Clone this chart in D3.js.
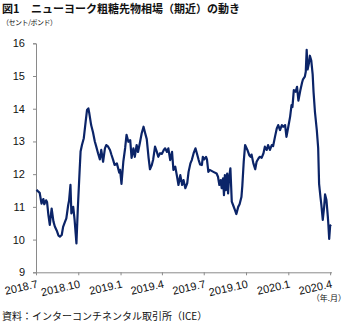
<!DOCTYPE html>
<html>
<head>
<meta charset="utf-8">
<script src="https://cdn.jsdelivr.net/npm/d3@7"></script>
<style>
  html, body { margin: 0; padding: 0; background: #fff; }
  svg { display: block; }
  text { font-family: "Liberation Sans", Arial, sans-serif; fill: #111; }
  .jp { font-family: "Noto Sans CJK JP", sans-serif; }
</style>
</head>
<body>
<svg id="chart" width="348" height="325"></svg>
<script>
// ICE raw sugar No.11, nearby contract (cents/lb)
const dates = [
  "2018-07-02","2018-07-05","2018-07-09","2018-07-13","2018-07-17","2018-07-19","2018-07-23","2018-07-25","2018-07-28","2018-07-31",
  "2018-08-04","2018-08-08","2018-08-11","2018-08-15","2018-08-19","2018-08-22","2018-08-26","2018-08-29","2018-09-02","2018-09-05",
  "2018-09-09","2018-09-11","2018-09-14","2018-09-16","2018-09-20","2018-09-23","2018-09-27","2018-09-30","2018-10-04","2018-10-06",
  "2018-10-09","2018-10-13","2018-10-17","2018-10-20","2018-10-23","2018-10-25","2018-10-29","2018-11-02","2018-11-06","2018-11-09",
  "2018-11-13","2018-11-17","2018-11-20","2018-11-24","2018-11-28","2018-12-01","2018-12-05","2018-12-09","2018-12-12","2018-12-16",
  "2018-12-19","2018-12-24","2018-12-29","2018-12-31","2019-01-03","2019-01-07","2019-01-11","2019-01-14","2019-01-18","2019-01-22",
  "2019-01-25","2019-01-29","2019-02-01","2019-02-05","2019-02-08","2019-02-12","2019-02-16","2019-02-20","2019-02-23","2019-02-27",
  "2019-03-03","2019-03-06","2019-03-10","2019-03-13","2019-03-17","2019-03-21","2019-03-24","2019-03-28","2019-04-01","2019-04-05",
  "2019-04-08","2019-04-12","2019-04-15","2019-04-19","2019-04-23","2019-04-26","2019-04-30","2019-05-04","2019-05-07","2019-05-11",
  "2019-05-15","2019-05-18","2019-05-22","2019-05-26","2019-05-29","2019-06-02","2019-06-05","2019-06-09","2019-06-13","2019-06-16",
  "2019-06-20","2019-06-23","2019-06-27","2019-06-29","2019-07-02","2019-07-06","2019-07-08","2019-07-11","2019-07-14","2019-07-22",
  "2019-07-29","2019-08-01","2019-08-04","2019-08-07","2019-08-09","2019-08-12","2019-08-14","2019-08-16","2019-08-18","2019-08-21",
  "2019-08-23","2019-08-25","2019-08-28","2019-08-31","2019-09-03","2019-09-07","2019-09-10","2019-09-14","2019-09-17","2019-09-21",
  "2019-09-23","2019-09-26","2019-09-29","2019-10-04","2019-10-08","2019-10-11","2019-10-13","2019-10-17","2019-10-21","2019-10-24",
  "2019-10-28","2019-10-31","2019-11-04","2019-11-08","2019-11-11","2019-11-15","2019-11-18","2019-11-22","2019-11-26","2019-11-29",
  "2019-12-03","2019-12-07","2019-12-10","2019-12-14","2019-12-18","2019-12-21","2019-12-25","2019-12-28","2020-01-01","2020-01-05",
  "2020-01-08","2020-01-10","2020-01-13","2020-01-17","2020-01-20","2020-01-23","2020-01-27","2020-01-31","2020-02-02","2020-02-06",
  "2020-02-08","2020-02-10","2020-02-12","2020-02-15","2020-02-17","2020-02-20","2020-02-23","2020-02-25","2020-02-28","2020-03-03",
  "2020-03-06","2020-03-08","2020-03-11","2020-03-13","2020-03-16","2020-03-19","2020-03-21","2020-03-24","2020-03-27","2020-03-28",
  "2020-03-30","2020-04-01","2020-04-03"
];
const prices = [
  11.52,11.48,11.43,11.10,11.24,11.08,11.20,11.15,10.75,10.45,
  10.95,10.55,10.40,10.28,10.12,10.09,10.14,10.39,10.54,10.65,
  11.05,11.20,11.67,10.80,11.00,10.60,9.88,10.95,12.13,12.69,
  12.89,13.10,13.60,13.96,14.01,13.86,13.50,13.28,13.00,12.85,
  12.64,12.45,12.74,12.38,12.79,12.89,12.84,12.74,12.60,12.43,
  12.28,12.33,12.05,12.13,11.70,12.38,12.80,13.20,12.99,13.04,
  12.50,12.79,12.53,12.89,12.68,12.95,13.25,13.45,13.28,13.07,
  12.50,12.15,12.28,12.45,12.84,12.68,12.53,12.64,12.62,12.74,
  12.79,12.68,12.79,12.43,12.68,12.13,12.23,11.92,11.67,11.97,
  11.67,11.82,11.57,11.72,12.07,12.33,12.43,12.64,12.79,12.64,
  12.43,12.30,12.28,12.53,12.45,12.53,12.45,12.07,12.13,12.07,
  12.02,11.92,11.67,11.82,11.57,11.87,11.36,11.97,11.51,12.02,
  11.41,11.87,12.18,11.16,11.05,10.90,10.78,11.00,11.08,11.30,
  11.65,12.38,12.89,12.74,12.58,12.53,12.60,12.33,12.15,12.38,
  12.48,12.53,12.50,12.64,12.84,12.74,12.89,12.74,12.89,12.86,
  13.14,13.40,13.50,13.35,13.50,13.45,13.50,13.14,13.45,13.76,
  14.11,14.05,14.57,14.52,14.67,14.25,14.55,14.80,14.90,14.98,
  15.13,15.80,15.20,15.40,15.62,15.47,15.05,14.50,13.90,13.35,
  12.80,11.70,11.30,11.05,10.60,11.00,11.38,11.21,10.70,10.50,
  10.02,10.42,10.45
];
const yTicks = [9, 10, 11, 12, 13, 14, 15, 16];
const xTicks = ["2018-07-01","2018-10-01","2019-01-01","2019-04-01","2019-07-01","2019-10-01","2020-01-01","2020-04-01"];

const parse = d3.timeParse("%Y-%m-%d");
const series = dates.map((d, i) => ({ date: parse(d), value: prices[i] }));

const svg = d3.select("#chart");
const axisColor = "#8a8a8a";

const x = d3.scaleTime()
  .domain([parse("2018-07-01"), parse("2020-04-04")])
  .range([36, 331.5]);
const y = d3.scaleLinear().domain([9, 16]).range([272.3, 43.3]);

// Title and unit labels
svg.append("text").attr("class", "jp").attr("x", 2).attr("y", 13)
  .attr("font-size", 11).attr("font-weight", "bold").text("図1");
svg.append("text").attr("class", "jp").attr("x", 31).attr("y", 13)
  .attr("font-size", 11).attr("font-weight", "bold")
  .text("ニューヨーク粗糖先物相場（期近）の動き");
svg.append("text").attr("class", "jp").attr("x", 2).attr("y", 24.8)
  .attr("font-size", 7).attr("fill", "#333")
  .attr("textLength", 55).attr("lengthAdjust", "spacing")
  .text("（セント/ポンド）");

// Y axis
const yAxis = svg.append("g").attr("transform", "translate(36,0)")
  .call(d3.axisLeft(y).tickValues(yTicks).tickSize(3).tickPadding(8).tickFormat(d3.format("d")));
yAxis.select(".domain").attr("stroke", axisColor);
yAxis.selectAll(".tick line").attr("stroke", axisColor);
yAxis.selectAll(".tick text").attr("font-size", 11).attr("fill", "#111")
  .attr("font-family", "Liberation Sans, Arial, sans-serif");

// X axis
const xAxis = svg.append("g").attr("transform", "translate(0,272.3)")
  .call(d3.axisBottom(x).tickValues(xTicks.map(parse)).tickSize(3).tickSizeOuter(0)
    .tickFormat(d => `${d.getFullYear()}.${d.getMonth() + 1}`));
xAxis.select(".domain").attr("stroke", axisColor);
xAxis.selectAll(".tick line").attr("stroke", axisColor);
xAxis.selectAll(".tick text")
  .attr("font-size", 11).attr("fill", "#111")
  .attr("font-family", "Liberation Sans, Arial, sans-serif")
  .attr("text-anchor", "end")
  .attr("dy", null).attr("y", 0)
  .attr("transform", "translate(2,15) rotate(-13)");

svg.append("text").attr("class", "jp").attr("x", 346).attr("y", 301)
  .attr("text-anchor", "end").attr("font-size", 8).attr("fill", "#333").text("（年.月）");

// Price line
const line = d3.line().x(d => x(d.date)).y(d => y(d.value));
svg.append("path").datum(series)
  .attr("fill", "none")
  .attr("stroke", "#0b2468")
  .attr("stroke-width", 2.2)
  .attr("stroke-linejoin", "round")
  .attr("d", line);

// Source
svg.append("text").attr("class", "jp").attr("x", 2).attr("y", 320)
  .attr("font-size", 10).text("資料：インターコンチネンタル取引所（ICE）");
</script>
</body>
</html>
